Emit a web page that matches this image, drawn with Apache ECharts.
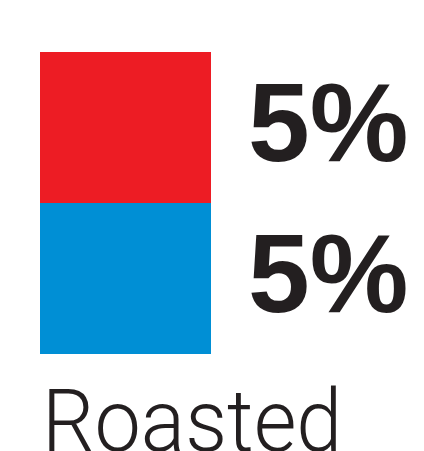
<!DOCTYPE html>
<html><head><meta charset="utf-8">
<script src="https://cdn.jsdelivr.net/npm/echarts@6/dist/echarts.min.js"></script>
<style>html,body{margin:0;padding:0;background:#fff}#c{width:424px;height:451px}</style>
</head><body><div id="c"></div>
<script>
const categories = ["Roasted"];
const seriesNames = ["Top", "Bottom"];
const topValues = [5];
const bottomValues = [5];
const valueSuffix = "%";

const chart = echarts.init(document.getElementById('c'), null, {renderer:'canvas'});
const labelStyle = {
  show: true, position: 'right', distance: 37, offset: [0, 3],
  formatter: p => p.value + valueSuffix,
  fontFamily: 'Liberation Sans, Arial, sans-serif', fontWeight: 'bold',
  fontSize: 111, color: '#231f20'
};
chart.setOption({
  animation: false,
  graphic: [{
    type: 'text', x: 40, y: 429, scaleX: 0.95, originX: 40,
    style: {text: categories[0], font: '300 87px Roboto, sans-serif', fill: '#231f20', verticalAlign: 'middle', align: 'left'}
  }],
  grid: {left: 40, top: 52, width: 171, height: 302},
  xAxis: {type: 'category', data: categories, show: false},
  yAxis: {type: 'value', min: 0, max: 10, show: false},
  series: [
    {name: seriesNames[1], type: 'bar', stack: 's', data: bottomValues, barWidth: '100%', itemStyle: {color: '#008fd5'}, label: labelStyle},
    {name: seriesNames[0], type: 'bar', stack: 's', data: topValues, barWidth: '100%', itemStyle: {color: '#ed1c24'}, label: labelStyle}
  ]
});
</script></body></html>
